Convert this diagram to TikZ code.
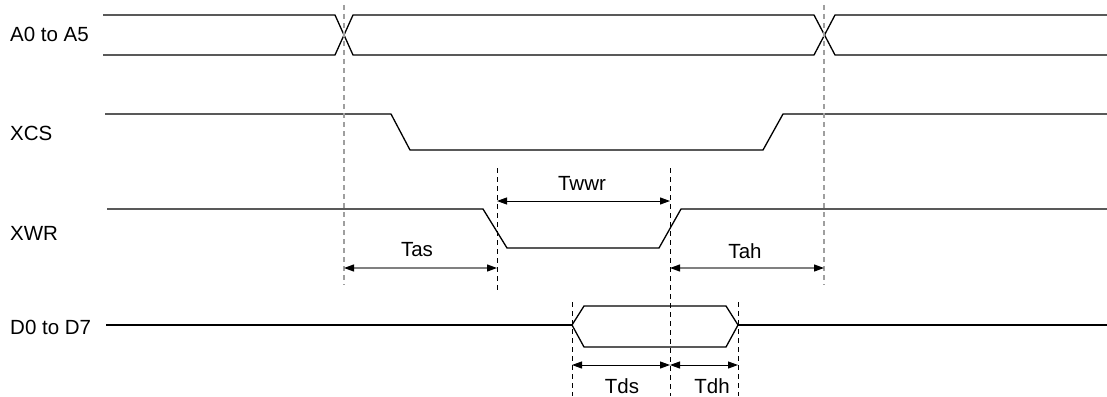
\documentclass[tikz,border=0pt]{standalone}
\usepackage{fontspec}
\setmainfont{Liberation Sans}
\usetikzlibrary{arrows.meta}
\begin{document}
\begin{tikzpicture}[x=1pt,y=-1pt,
  sig/.style={line width=1.3pt, draw=black, line join=miter},
  guide/.style={line width=0.9pt, draw=black, dash pattern=on 5pt off 4pt},
  gguide/.style={line width=1.3pt, draw=gray!75, dash pattern=on 5pt off 4pt},
  dimarrow/.style={line width=1pt, draw=black,
     {Triangle[length=10pt,width=7pt,color=black]}-{Triangle[length=10pt,width=7pt,color=black]}},
  gdimarrow/.style={dimarrow, line width=1.2pt, draw=gray},
  sigtext/.style={font=\fontsize{20.5}{23}\selectfont, inner sep=0pt, anchor=west},
  dimtext/.style={font=\fontsize{20.5}{23}\selectfont, inner sep=0pt}
]
\useasboundingbox (0,0) rectangle (1107,396);

% signal names
\node[sigtext] (lA) at (10,34) {A0 to A5};
\node[sigtext] (lCS) at (10,133) {XCS};
\node[sigtext] (lWR) at (10,233) {XWR};
\node[sigtext] (lD) at (10,327) {D0 to D7};

% A0 to A5 bus
\draw[sig] (103,15) -- (335,15) -- (353,55) -- (814,55) -- (835,15) -- (1107,15);
\draw[sig] (103,55) -- (335,55) -- (353,15) -- (814,15) -- (835,55) -- (1107,55);

% XCS
\draw[sig] (105,114) -- (391,114) -- (410,150) -- (763,150) -- (783,114) -- (1107,114);

% XWR
\draw[sig] (107,209) -- (483,209) -- (507,248) -- (659,248) -- (681,209) -- (1107,209);

% D0 to D7
\coordinate (dl) at (572,325);
\coordinate (dr) at (738,325);
\draw[sig] (106,325) -- (dl);
\draw[sig] (dr) -- (1107,325);
\draw[sig] (dl) -- (584,306) -- (726,306) -- (dr) -- (726,347) -- (584,347) -- cycle;

% guide lines
\draw[gguide] (344,5) -- (344,285);
\draw[gguide] (824,5) -- (824,285);
\draw[guide] (497,168) -- (497,290);
\draw[guide] (670,168) -- (670,396);
\draw[guide] (572,302) -- (572,396);
\draw[guide] (738,302) -- (738,396);

% dimension arrows
\coordinate (w1) at (497,201);
\coordinate (w2) at (670,201);
\coordinate (as1) at (344,268);
\coordinate (as2) at (497,268);
\coordinate (ah1) at (670,268);
\coordinate (ah2) at (824,268);
\coordinate (ds1) at (572,365);
\coordinate (ds2) at (670,365);
\coordinate (dh2) at (738,365);

\draw[dimarrow] (w1) -- (w2);
\draw[gdimarrow] (as1) -- (as2);
\draw[gdimarrow] (ah1) -- (ah2);
\draw[dimarrow] (ds1) -- (ds2);
\draw[dimarrow] (ds2) -- (dh2);

\node[dimtext] (tTwwr) at (582,183) {Twwr};
\node[dimtext] (tTas) at (417,250) {Tas};
\node[dimtext] (tTah) at (745,251) {Tah};
\node[dimtext] (tTds) at (622,386) {Tds};
\node[dimtext] (tTdh) at (712,386) {Tdh};
\end{tikzpicture}
\end{document}
